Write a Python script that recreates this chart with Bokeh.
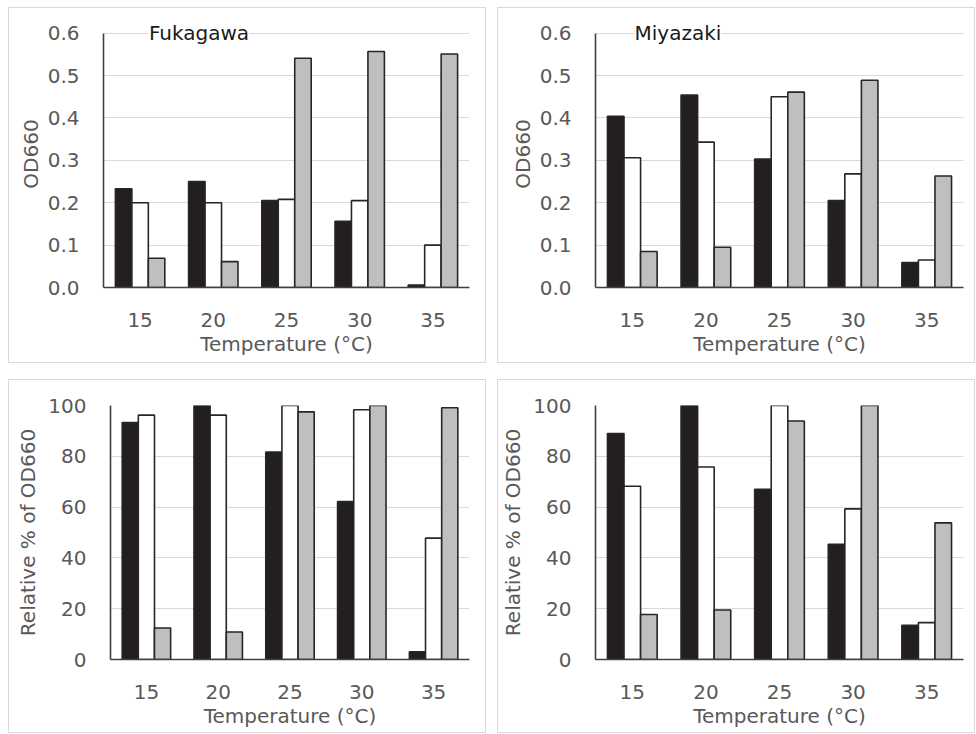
from bokeh.plotting import figure
from bokeh.layouts import row, column, Spacer
from bokeh.models import Range1d, FactorRange, Label, FixedTicker, NumeralTickFormatter, ColumnDataSource
from bokeh.transform import dodge
from bokeh.embed import file_html
from bokeh.resources import INLINE

temps = ["15", "20", "25", "30", "35"]

# OD660 (top row)
fuk_od_black = [0.233, 0.250, 0.205, 0.156, 0.006]
fuk_od_white = [0.200, 0.200, 0.208, 0.205, 0.100]
fuk_od_gray = [0.069, 0.061, 0.541, 0.557, 0.551]

miy_od_black = [0.404, 0.454, 0.303, 0.205, 0.059]
miy_od_white = [0.306, 0.343, 0.450, 0.268, 0.065]
miy_od_gray = [0.085, 0.095, 0.461, 0.489, 0.263]

# Relative % of OD660 (bottom row)
fuk_rel_black = [93.3, 100.0, 81.7, 62.2, 3.0]
fuk_rel_white = [96.2, 96.2, 100.0, 98.3, 47.8]
fuk_rel_gray = [12.4, 10.8, 97.5, 100.0, 99.1]

miy_rel_black = [89.0, 100.0, 67.0, 45.4, 13.5]
miy_rel_white = [68.2, 75.8, 100.0, 59.3, 14.5]
miy_rel_gray = [17.7, 19.5, 93.9, 100.0, 53.8]

od_ticks = [0.0, 0.1, 0.2, 0.3, 0.4, 0.5, 0.6]
rel_ticks = [0, 20, 40, 60, 80, 100]

FONT = "DejaVu Sans"
GRAY_TXT = "#595959"


def make_panel(black, white, gray, yend, ymax, ticks, fmt, ylabel, title, title_x,
               width, height, bl, br, bt, bb, ystand, ylab_stand):
    src = ColumnDataSource(dict(x=temps, a=black, b=white, c=gray))
    p = figure(x_range=FactorRange(factors=temps, range_padding=0),
               y_range=Range1d(0, ymax),
               width=width, height=height, output_backend="svg",
               toolbar_location=None, tools="",
               min_border_left=bl, min_border_right=br,
               min_border_top=bt, min_border_bottom=bb)
    p.styles = {"border": "1px solid #d9d9d9", "box-sizing": "border-box"}
    bw = 0.225
    kw = dict(line_color="#262626", line_width=1.6, width=bw, source=src)
    p.vbar(x=dodge("x", -bw, range=p.x_range), top="a", fill_color="#231f20", **kw)
    p.vbar(x=dodge("x", 0, range=p.x_range), top="b", fill_color="#ffffff", **kw)
    p.vbar(x=dodge("x", bw, range=p.x_range), top="c", fill_color="#bdbfc1", **kw)

    p.outline_line_color = None
    p.xgrid.visible = False
    p.ygrid.grid_line_color = "#d9d9d9"
    p.ygrid.grid_line_width = 1

    p.yaxis.ticker = FixedTicker(ticks=ticks)
    p.yaxis.formatter = NumeralTickFormatter(format=fmt)
    p.yaxis.bounds = (0, yend)
    for ax in (p.xaxis, p.yaxis):
        ax.axis_line_color = "#404040"
        ax.axis_line_width = 1.6
        ax.major_tick_line_color = None
        ax.minor_tick_line_color = None
        ax.major_label_text_font = FONT
        ax.major_label_text_font_size = "20px"
        ax.major_label_text_color = GRAY_TXT
        ax.axis_label_text_font = FONT
        ax.axis_label_text_font_size = "20px"
        ax.axis_label_text_color = GRAY_TXT
        ax.axis_label_text_font_style = "normal"
    p.yaxis.major_label_standoff = ystand
    p.yaxis.axis_label_standoff = ylab_stand
    p.yaxis.axis_label = ylabel
    p.xaxis.major_label_standoff = 19
    p.xaxis.axis_label_standoff = 2
    p.xaxis.axis_label = "Temperature (°C)"

    if title:
        p.add_layout(Label(x=title_x, y=yend, text=title, text_font=FONT,
                           text_font_size="20px", text_color="#1a1a1a",
                           text_baseline="middle", text_align="left",
                           background_fill_color="white"))
    return p


p1 = make_panel(fuk_od_black, fuk_od_white, fuk_od_gray, 0.6, 0.63, od_ticks, "0.0",
                "OD660", "Fukagawa", 0.62, 478, 356, 94, 18, 12, 77, 18, 2)
p2 = make_panel(miy_od_black, miy_od_white, miy_od_gray, 0.6, 0.63, od_ticks, "0.0",
                "OD660", "Miyazaki", 0.53, 478, 356, 97, 13, 12, 76, 18, 2)
p3 = make_panel(fuk_rel_black, fuk_rel_white, fuk_rel_gray, 100, 100, rel_ticks, "0",
                "Relative % of OD660", None, 0, 478, 354, 101, 18, 25, 75, 18, 5)
p4 = make_panel(miy_rel_black, miy_rel_white, miy_rel_gray, 100, 100, rel_ticks, "0",
                "Relative % of OD660", None, 0, 478, 354, 97, 13, 24, 71, 18, 5)

top = row(Spacer(width=8), p1, Spacer(width=11), p2, spacing=0)
bottom = row(Spacer(width=8), p3, Spacer(width=11), p4, spacing=0)
layout = column(Spacer(height=7), top, Spacer(height=16), bottom, spacing=0)

open("out.html", "w").write(file_html(layout, INLINE))
